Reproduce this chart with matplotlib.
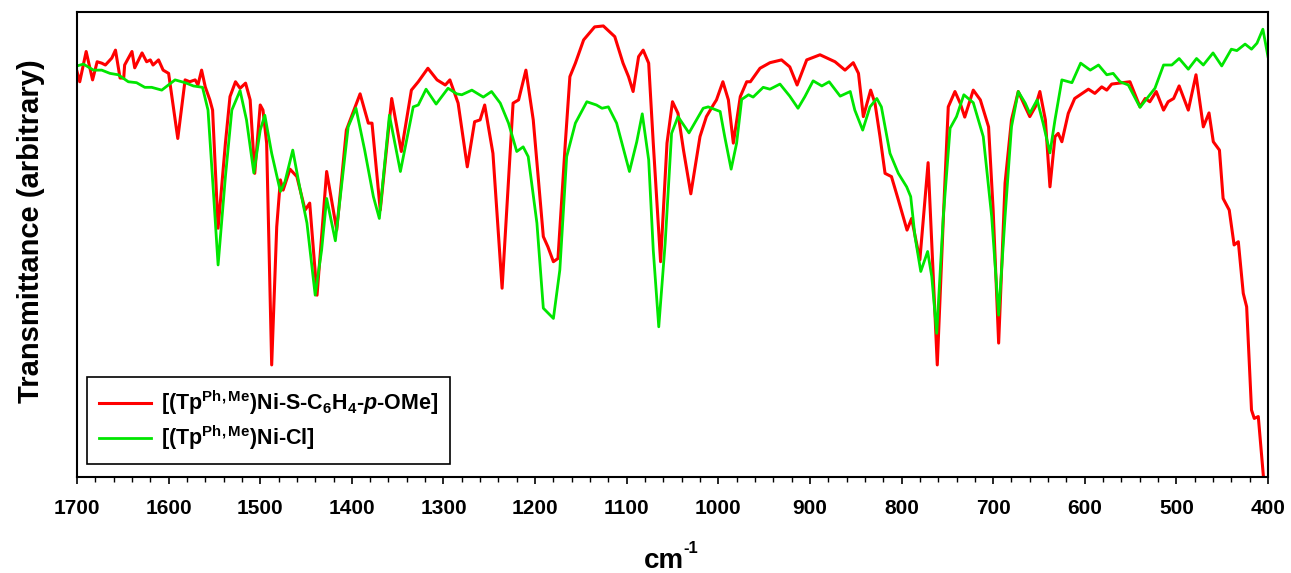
import matplotlib.pyplot as plt
from matplotlib.ticker import MultipleLocator

# wavenumber (cm-1) and transmittance (arbitrary, 0-100)
red_wn = [1700, 1697, 1690, 1683, 1678, 1673, 1669, 1662, 1658, 1653, 1649, 1648, 1640, 1637,
          1629, 1624, 1620, 1617, 1611, 1606, 1600, 1590, 1582, 1577, 1571, 1568, 1564, 1560,
          1555, 1552, 1546, 1538, 1533, 1527, 1522, 1516, 1511, 1506, 1500, 1497, 1493, 1487.5,
          1482, 1478, 1475, 1467.5, 1460, 1451, 1446, 1438, 1427.5, 1416.5, 1406, 1391, 1382,
          1378, 1369, 1356.5, 1346, 1335, 1327.5, 1317, 1307, 1298, 1293, 1284, 1274, 1266,
          1260, 1255, 1246, 1236, 1224, 1218, 1210, 1202, 1191, 1186, 1180, 1175, 1167, 1162,
          1156, 1147, 1135, 1125.5, 1113, 1104, 1098, 1093, 1087, 1082, 1076, 1071, 1063, 1056,
          1050, 1044, 1038, 1030, 1020, 1013, 1005.5, 1002, 995, 989, 983.6, 976, 969, 965,
          954.5, 943.6, 931, 922, 914, 903.5, 889, 872.6, 861.7, 852.7, 847, 841.7, 833.7, 829,
          823.5, 818, 811, 803.5, 794, 789, 780, 771, 761, 754, 749, 741.7, 736, 731, 721.7,
          714, 705, 700, 694, 687, 680, 672.6, 665, 660, 654, 649, 643, 638, 632.5, 629, 625,
          618, 611, 596, 589, 581.5, 576, 570.6, 550.7, 539.7, 534, 529, 522, 514, 509, 503,
          497, 487, 478.6, 470.6, 464.4, 459.7, 453, 449, 442.3, 437, 432.4, 427, 423.3, 418,
          415, 410.6, 405]
red_t = [87.2, 85.0, 91.5, 85.4, 89.3, 89.0, 88.6, 90.1, 91.8, 85.8, 85.8, 88.6, 91.5, 88.0,
         91.2, 89.3, 89.7, 88.6, 89.7, 87.5, 86.8, 72.8, 85.4, 85.0, 85.4, 84.3, 87.5, 83.9,
         81.1, 78.9, 53.5, 71.8, 81.8, 85.0, 83.6, 84.7, 81.1, 65.3, 80.0, 78.9, 71.8, 24.1,
         53.8, 63.9, 61.7, 66.2, 64.6, 57.4, 58.9, 39.1, 65.7, 53.1, 74.6, 82.4, 76.1,
         76.1, 57.4, 81.4, 70.0, 83.2, 85.0, 87.9, 85.4, 84.3, 85.4, 80.4, 66.7, 76.4,
         76.8, 80.0, 69.6, 40.6, 80.4, 81.1, 87.5, 76.8, 51.7, 49.5, 46.3, 47.0, 71.8, 86.1,
         89.0, 94.0, 96.8, 97.0, 94.7, 89.0, 86.1, 82.9, 90.4, 91.8, 89.0, 71.8, 46.3, 71.8,
         80.7, 78.2, 70.3, 60.9, 73.2, 77.5, 80.0, 81.1, 85.0, 81.1, 71.8, 81.8, 85.0, 85.0,
         87.9, 89.1, 89.7, 88.2, 84.3, 89.7, 90.8, 89.3, 87.5, 89.1, 86.8, 77.5, 83.2, 80.4,
         73.2, 65.3, 64.6, 59.6, 53.1, 55.6, 46.7, 67.6, 24.1, 57.4, 79.6, 82.9, 80.4, 77.4, 83.2,
         81.1, 75.3, 57.4, 28.8, 63.2, 76.8, 82.9, 79.6, 77.5, 79.6, 82.9, 76.8, 62.4, 73.2, 73.9, 72.1,
         78.2, 81.4, 83.4, 82.5, 83.9, 83.2, 84.5, 85.0, 79.6, 81.4, 80.7, 82.9, 78.9, 80.7, 81.4,
         84.1, 78.9, 86.5, 75.3, 78.3, 72.1, 70.3, 59.9, 57.4, 49.9, 50.6, 39.5, 36.6, 14.4,
         12.6, 13.0, 0.1]

green_wn = [1700, 1693, 1682, 1673, 1664, 1655, 1644, 1635, 1626, 1618.5, 1607.5, 1593, 1582,
            1573, 1563, 1557, 1551, 1546, 1538, 1531, 1522, 1515, 1507, 1500, 1495, 1487.5,
            1478, 1473, 1464.5, 1457, 1449, 1440, 1433, 1427.5, 1418, 1404, 1395.5, 1386,
            1376.5, 1370, 1359, 1347, 1333, 1327.5, 1319, 1308, 1295, 1285.5, 1280, 1269,
            1256.5, 1247.5, 1238, 1229, 1220, 1213, 1207.5, 1198, 1191, 1180, 1173, 1165.5,
            1156, 1143.5, 1133, 1127, 1120, 1111, 1097, 1089, 1083, 1076, 1071, 1065, 1058,
            1051, 1044, 1032, 1016.5, 1011, 998, 993, 986, 980, 974.5, 967, 962, 951, 943.6,
            932.7, 922, 913, 905.5, 896.5, 887, 879, 867, 856, 851, 842.4, 834.4, 827, 822,
            812.6, 803.5, 794.4, 790, 785.3, 779, 771.5, 767, 761.6, 754.4, 747, 740, 732,
            721.7, 710.8, 701.6, 694, 687, 680, 672.6, 665, 660, 652, 645.5, 638, 632.5, 625,
            614, 604.5, 594, 585, 576, 569, 561.5, 552.5, 539.7, 523.4, 514, 505, 497, 487,
            478, 470.6, 460, 450.5, 440, 434, 425, 418, 412, 405.6, 400]
green_t = [88.4, 88.8, 87.5, 87.5, 86.8, 86.5, 85.0, 84.8, 83.8, 83.8, 83.2, 85.4, 84.8,
           84.1, 83.8, 78.9, 61.0, 45.6, 64.6, 78.9, 83.1, 76.8, 65.4, 74.6, 77.8, 69.6,
           61.4, 63.5, 70.3, 62.4, 54.6, 39.1, 48.8, 59.9, 50.8, 75.3, 79.3, 70.3,
           60.3, 55.6, 77.8, 65.7, 79.6, 80.0, 83.4, 80.2, 83.6, 82.4, 82.2, 83.2,
           81.7, 82.9, 80.4, 76.1, 70.0, 71.0, 68.9, 54.6, 36.3, 34.1, 44.5, 68.9,
           76.1, 80.7, 80.0, 79.3, 79.6, 76.1, 65.7, 72.1, 78.1, 68.2, 48.8, 32.3, 50.3,
           73.9, 77.5, 74.0, 79.3, 79.6, 78.6, 73.2, 66.2, 71.8, 81.2, 82.2, 81.7, 83.8, 83.4,
           84.5, 81.9, 79.3, 81.8, 85.2, 84.1, 85.0, 81.9, 82.9, 78.9, 74.6, 79.6, 81.4, 79.6,
           69.6, 65.3, 62.4, 60.3, 51.7, 44.2, 48.5, 43.1, 30.9, 56.0, 75.0, 77.5, 82.2,
           80.5, 73.2, 56.0, 34.8, 56.0, 75.3, 82.9, 80.4, 78.2, 81.1, 76.1, 69.7, 76.8, 85.4,
           84.8, 89.0, 87.5, 88.6, 86.5, 86.8, 85.0, 84.3, 79.5, 83.6, 88.6, 88.6, 90.0, 87.7,
           90.0, 88.6, 91.2, 88.4, 92.0, 91.7, 93.1, 92.0, 93.3, 96.3, 90.4]

red_label = r'[(Tp$^{\mathrm{Ph,Me}}$)Ni-S-C$_{\mathrm{6}}$H$_{\mathrm{4}}$-$p$-OMe]'
green_label = r'[(Tp$^{\mathrm{Ph,Me}}$)Ni-Cl]'

plt.rcParams['font.family'] = ['Liberation Sans', 'DejaVu Sans']
plt.rcParams['font.weight'] = 'bold'
plt.rcParams['mathtext.fontset'] = 'custom'
plt.rcParams['mathtext.rm'] = 'Liberation Sans:bold'
plt.rcParams['mathtext.it'] = 'Liberation Sans:bold:italic'
plt.rcParams['mathtext.bf'] = 'Liberation Sans:bold'

W, H = 1291, 573
fig = plt.figure(figsize=(W / 100, H / 100), dpi=100)
ax = fig.add_axes([77 / W, 1 - 477 / H, 1191 / W, 465 / H])

ax.plot(red_wn, red_t, color='#ff0000', lw=2.2, label=red_label)
ax.plot(green_wn, green_t, color='#00e600', lw=2.0, label=green_label)

ax.set_xlim(1700, 400)
ax.set_ylim(0, 100)
ax.xaxis.set_major_locator(MultipleLocator(100))
ax.xaxis.set_minor_locator(MultipleLocator(20))
ax.tick_params(axis='x', which='major', direction='out', length=5, width=1.2,
               labelsize=15, pad=11)
ax.tick_params(axis='x', which='minor', direction='out', length=3.5, width=1.0)
ax.set_yticks([])
for s in ax.spines.values():
    s.set_linewidth(1.5)

# x label: "cm" with a small "-1" superscript
fig.text(664 / W, 1 - 568 / H, 'cm', fontsize=20, fontweight='bold',
         ha='center', va='baseline')
fig.text(683 / W, 1 - 553 / H, '-1', fontsize=12, fontweight='bold',
         ha='left', va='baseline')

ax.set_ylabel('Transmittance (arbitrary)', fontsize=21, fontweight='bold')
ax.yaxis.set_label_coords(-0.027, 0.528)

leg = ax.legend(loc='lower left', bbox_to_anchor=(0.0084, 0.028), borderaxespad=0,
                fontsize=15.5, fancybox=False, edgecolor='black', framealpha=1,
                handlelength=2.4, handletextpad=0.5, borderpad=0.55, labelspacing=0.3)
leg.get_frame().set_linewidth(1.2)

fig.savefig('out.png', dpi=100)
